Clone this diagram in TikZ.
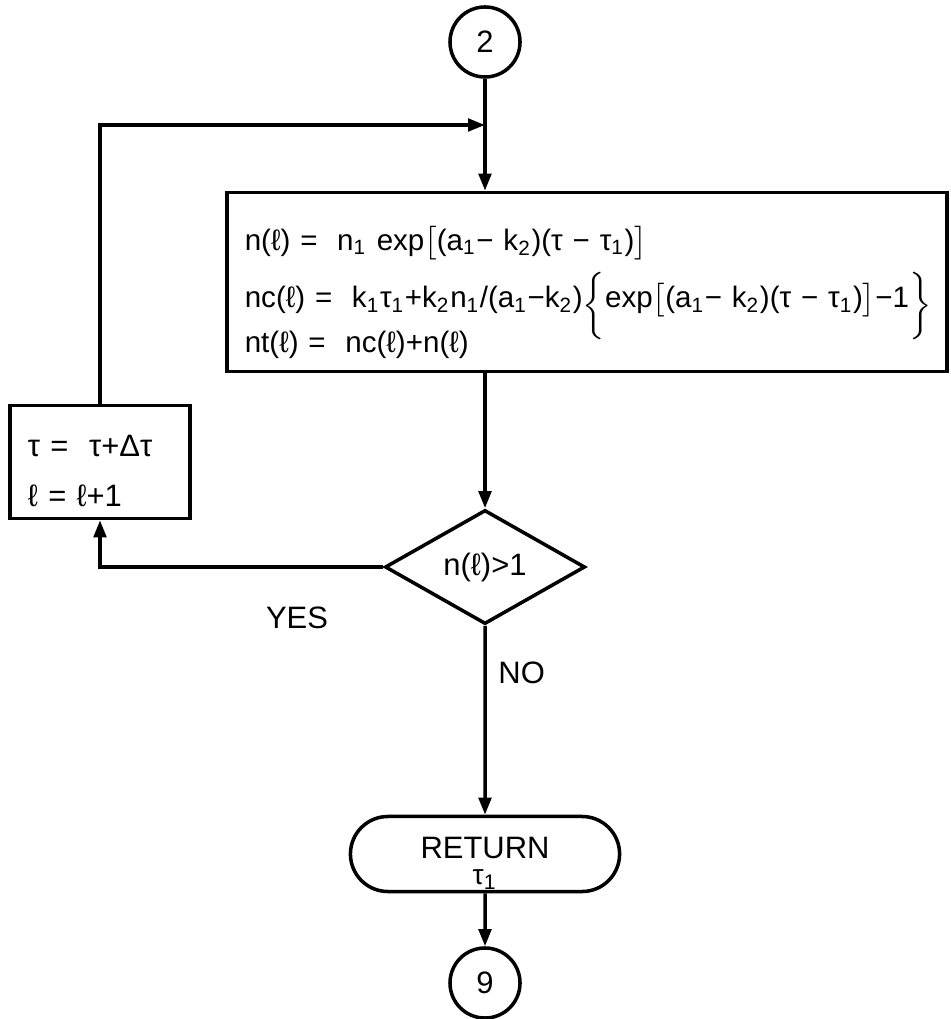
\documentclass[tikz,border=0pt]{standalone}
\usepackage{amsmath}
\usepackage{fontspec}
\setmainfont{Liberation Sans}
\usetikzlibrary{arrows.meta,positioning,shapes.geometric,shapes.misc}
\newcommand{\lo}[1]{\textsubscript{#1}}

\begin{document}
\begin{tikzpicture}[x=0.01cm,y=-0.01cm,line width=1pt,font=\fontsize{8.8}{10.3}\selectfont,
  flow/.style={-{Triangle[length=1.7mm,width=1.25mm]}},
  connector/.style={draw,circle,minimum size=0.7cm,inner sep=0pt},
  procbox/.style={draw,rectangle,align=left,inner xsep=0.18cm},
  decision/.style={draw,diamond,aspect=1.75,minimum width=2cm,minimum height=1.14cm,inner sep=0pt},
  terminal/.style={draw,rounded rectangle,minimum width=2.69cm,minimum height=0.75cm,align=center,inner sep=0pt}]
\useasboundingbox (0,0) rectangle (950,1019);
\node[connector] (c2) at (485,42) {2};
\node[procbox,font=\fontsize{8.4}{10.3}\selectfont,text width=6.84cm,minimum height=1.79cm] (calc) at (587,282)
 {\mbox{\rule{0pt}{0.45cm}n(ℓ) = \ n\lo{1} exp$\bigl[$(a\lo{1}− k\lo{2})(τ − τ\lo{1})$\bigr]$}\\[6pt]
\mbox{nc(ℓ) = \ k\lo{1}τ\lo{1}+k\lo{2}n\lo{1}/(a\lo{1}−k\lo{2})\raisebox{-1.5pt}{\smash{$\bigg\{$}}exp$\bigl[$(a\lo{1}− k\lo{2})(τ − τ\lo{1})$\bigr]$−1\raisebox{-1.5pt}{\smash{$\bigg\}$}}}\\[2.5pt]
\mbox{nt(ℓ) = \ nc(ℓ)+n(ℓ)}};
\node[procbox,text width=1.44cm,minimum height=1.08cm] (incr) at (100,462) {\mbox{\rule{0pt}{0.39cm}τ = \ τ+Δτ}\\[4pt]ℓ = ℓ+1};
\node[decision] (test) at (485,567) {n(ℓ)>1};
\node[terminal] (ret) at (485,854) {\rule{0pt}{0.4cm}RETURN\\[-3pt]{\footnotesize τ\lo{1}}};
\node[connector] (c9) at (485,983) {9};
\node (yes) at (297,618) {YES};
\coordinate (join) at (485,125);

\draw[flow] (c2) -- (c2 |- calc.north);
\draw[flow] (incr) |- (join);
\draw[flow] (calc.south -| test) -- (test);
\draw[flow] (test) -| (incr);
\draw[flow] (test) -- node[right,pos=0.25] {NO} (ret);
\draw[flow] (ret) -- (c9);
\end{tikzpicture}
\end{document}
